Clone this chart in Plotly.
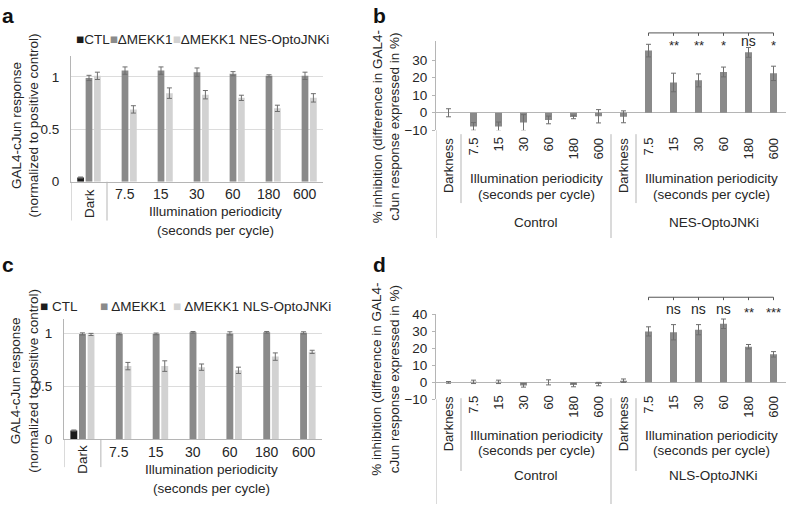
import plotly.graph_objects as go

W, H = 788, 512


def px(x):
    return x / W


def py(y):
    return 1 - y / H


FONT = "Liberation Sans, Arial, sans-serif"
TXT = "#262626"
C_CTL = "#1c1c1c"
C_MEKK = "#8a8a8a"
C_OPTO = "#d2d2d2"
ERR = "#6e6e6e"
AX = "#b5b5b5"
GRID = "#dcdcdc"

# ---------------- data ----------------
cats_ac = ["Dark", "7.5", "15", "30", "60", "180", "600"]
group_title_1 = "Illumination periodicity"
group_title_2 = "(seconds per cycle)"

# panel a
a_ctl = [0.04, None, None, None, None, None, None]
a_ctl_err = [0.005, 0, 0, 0, 0, 0, 0]
a_mekk = [0.99, 1.06, 1.06, 1.045, 1.03, 1.01, 1.01]
a_mekk_err = [0.025, 0.035, 0.035, 0.04, 0.02, 0.01, 0.035]
a_nes = [1.01, 0.69, 0.845, 0.83, 0.80, 0.70, 0.80]
a_nes_err = [0.035, 0.035, 0.05, 0.04, 0.025, 0.03, 0.04]

# panel c
c_ctl = [0.08, None, None, None, None, None, None]
c_ctl_err = [0.005, 0, 0, 0, 0, 0, 0]
c_mekk = [0.995, 0.995, 0.995, 1.01, 1.0, 1.01, 1.005]
c_mekk_err = [0.01, 0.008, 0.008, 0.008, 0.015, 0.008, 0.01]
c_nls = [0.99, 0.69, 0.69, 0.68, 0.65, 0.78, 0.825]
c_nls_err = [0.01, 0.035, 0.05, 0.03, 0.03, 0.035, 0.015]

# panels b and d
cats_bd = ["Darkness", "7.5", "15", "30", "60", "180", "600",
           "Darkness", "7.5", "15", "30", "60", "180", "600"]
b_vals = [0.0, -7.8, -7.8, -5.6, -4.1, -2.4, -2.0,
          -2.3, 35.5, 17.3, 18.5, 23.3, 34.5, 22.5]
b_err = [2.3, 2.2, 2.5, 4.5, 2.2, 1.0, 3.8,
         3.4, 3.6, 5.3, 3.7, 2.8, 2.8, 4.1]
b_sig = [None] * 9 + ["**", "**", "*", "ns", "*"]
b_groups = ["Control", "NES-OptoJNKi"]

d_vals = [0.0, 0.3, 0.3, -1.8, 0.0, -1.6, -1.0,
          1.0, 30.0, 29.5, 31.0, 34.5, 21.0, 16.5]
d_err = [0.5, 1.0, 1.0, 1.0, 1.5, 1.0, 1.0,
         1.0, 2.7, 4.5, 3.0, 2.8, 1.3, 1.6]
d_sig = [None] * 9 + ["ns", "ns", "ns", "**", "***"]
d_groups = ["Control", "NLS-OptoJNKi"]

legend_a = ["CTL", "ΔMEKK1", "ΔMEKK1 NES-OptoJNKi"]
legend_c = ["CTL", "ΔMEKK1", "ΔMEKK1 NLS-OptoJNKi"]

ytitle_ac = "GAL4-cJun response<br>(normalized to positive control)"
ytitle_bd = "% inhibition (difference in GAL4-<br>cJun response expressed in %)"

# ---------------- figure ----------------
fig = go.Figure()


def err(arr):
    return dict(type="data", array=arr, color=ERR, thickness=1, width=2.5, visible=True)


xi_ac = list(range(len(cats_ac)))
xi_bd = list(range(len(cats_bd)))

for vals, e, col, nm, xa, ya in [
    (a_ctl, a_ctl_err, C_CTL, legend_a[0], "x", "y"),
    (a_mekk, a_mekk_err, C_MEKK, legend_a[1], "x", "y"),
    (a_nes, a_nes_err, C_OPTO, legend_a[2], "x", "y"),
    (c_ctl, c_ctl_err, C_CTL, legend_c[0], "x3", "y3"),
    (c_mekk, c_mekk_err, C_MEKK, legend_c[1], "x3", "y3"),
    (c_nls, c_nls_err, C_OPTO, legend_c[2], "x3", "y3"),
]:
    fig.add_trace(go.Bar(x=xi_ac, y=vals, error_y=err(e), marker_color=col,
                         marker_line_width=0, name=nm, xaxis=xa, yaxis=ya,
                         showlegend=False, cliponaxis=False))

for vals, e, xa, ya in [(b_vals, b_err, "x2", "y2"), (d_vals, d_err, "x4", "y4")]:
    fig.add_trace(go.Bar(x=xi_bd, y=vals, error_y=err(e), marker_color=C_MEKK,
                         marker_line_width=0, width=0.28, xaxis=xa, yaxis=ya,
                         showlegend=False, cliponaxis=False))

tickfont = dict(family=FONT, size=13.5, color=TXT)

common_x = dict(showticklabels=False, showgrid=False, zeroline=False, ticks="", fixedrange=True)

fig.update_layout(
    width=W, height=H, margin=dict(l=0, r=0, t=0, b=0),
    paper_bgcolor="white", plot_bgcolor="white",
    barmode="group", bargap=0.3, bargroupgap=0.2,
    font=dict(family=FONT, size=13.5, color=TXT),
    xaxis=dict(domain=[px(71), px(323)], range=[-0.5, 6.5], anchor="y",
               showline=True, linecolor=AX, linewidth=1, **common_x),
    yaxis=dict(domain=[py(180), py(50.4)], range=[0, 1.2], anchor="x",
               tickvals=[0, 0.5, 1], ticktext=["0", "0.5", "1"],
               showgrid=True, gridcolor=GRID, gridwidth=1, zeroline=False,
               showline=True, linecolor=AX, ticks="", ticklabelstandoff=8,
               tickfont=tickfont, fixedrange=True),
    xaxis2=dict(domain=[px(436), px(786)], range=[-0.5, 13.5], anchor="y2",
                showline=False, **common_x),
    yaxis2=dict(domain=[py(127), py(35)], range=[-10, 41], anchor="x2",
                tickvals=[-10, 0, 10, 20, 30], showgrid=False,
                zeroline=True, zerolinecolor=AX, zerolinewidth=1,
                showline=True, linecolor=AX, ticks="outside", ticklen=3,
                tickcolor=AX, ticklabelstandoff=2, tickfont=tickfont, fixedrange=True),
    xaxis3=dict(domain=[px(64), px(322)], range=[-0.5, 6.5], anchor="y3",
                showline=True, linecolor=AX, linewidth=1, **common_x),
    yaxis3=dict(domain=[py(445), py(321)], range=[0, 1.14], anchor="x3",
                tickvals=[0, 0.5, 1], ticktext=["0", "0.5", "1"],
                showgrid=True, gridcolor=GRID, gridwidth=1, zeroline=False,
                showline=True, linecolor=AX, ticks="", ticklabelstandoff=8,
                tickfont=tickfont, fixedrange=True),
    xaxis4=dict(domain=[px(436), px(786)], range=[-0.5, 13.5], anchor="y4",
                showline=False, **common_x),
    yaxis4=dict(domain=[py(404.2), py(316.7)], range=[-10, 40], anchor="x4",
                tickvals=[-10, 0, 10, 20, 30, 40], showgrid=False,
                zeroline=True, zerolinecolor=AX, zerolinewidth=1,
                showline=True, linecolor=AX, ticks="outside", ticklen=3,
                tickcolor=AX, ticklabelstandoff=2, tickfont=tickfont, fixedrange=True),
)

ann = []
shapes = []


def text(x, y, s, xref="paper", size=13.5, angle=0, xanchor="center", yanchor="middle", bold=False):
    ann.append(dict(x=x, y=y, xref=xref, yref="paper", text=s, showarrow=False,
                    textangle=angle, xanchor=xanchor, yanchor=yanchor,
                    font=dict(family=FONT, size=size, color="#111" if bold else TXT,
                              weight="bold" if bold else "normal")))


def vline(x, y0, y1, xref):
    shapes.append(dict(type="line", xref=xref, yref="paper", x0=x, x1=x,
                       y0=py(y0), y1=py(y1), line=dict(color=AX, width=1)))


def hline(x0, x1, y, xref, color=AX):
    shapes.append(dict(type="line", xref=xref, yref="paper", x0=x0, x1=x1,
                       y0=py(y), y1=py(y), line=dict(color=color, width=1)))


# ---- panels a and c (bottom labels) ----
for xref, base, dark_top, num_y, t1_y, t2_y, bottom in [
    ("x", 180, 186, 193, 211, 230, 220),
    ("x3", 445, 449, 458, 476, 496, 474),
]:
    vline(-0.5, base, bottom, xref)
    vline(0.5, base, bottom, xref)
    text(0, py(dark_top), cats_ac[0], xref=xref, angle=-90, yanchor="top")
    for i in range(1, len(cats_ac)):
        text(i, py(num_y), cats_ac[i], xref=xref, size=14)
    text(3.5, py(t1_y), group_title_1, xref=xref)
    text(3.5, py(t2_y), group_title_2, xref=xref)

# ---- panels b and d (bottom labels) ----
for xref, axis_bottom, sep_top, lab_top, t1_y, t2_y, g_y, short_bot, long_bot, groups in [
    ("x2", 127, 131, 133, 177, 193, 222, 202, 238, b_groups),
    ("x4", 404.2, 403, 399, 441, 457, 483, 478, 512, d_groups),
]:
    vline(-0.5, axis_bottom, long_bot, xref)
    vline(0.5, sep_top, short_bot, xref)
    vline(6.5, sep_top, long_bot, xref)
    vline(7.5, sep_top, short_bot, xref)
    for i, c in enumerate(cats_bd):
        text(i, py(lab_top), c, xref=xref, size=13, angle=-90, yanchor="top")
    text(3.5, py(t1_y), group_title_1, xref=xref)
    text(3.5, py(t2_y), group_title_2, xref=xref)
    text(10.5, py(t1_y), group_title_1, xref=xref)
    text(10.5, py(t2_y), group_title_2, xref=xref)
    text(3.5, py(g_y), groups[0], xref=xref)
    text(10.6, py(g_y), groups[1], xref=xref)

# ---- significance brackets ----
for xref, yb, ylab, sig in [("x2", 26.7, 35.5, b_sig), ("x4", 299, 311, d_sig)]:
    hline(8, 13, yb, xref, color="#555")
    for i in range(8, 14):
        shapes.append(dict(type="line", xref=xref, yref="paper", x0=i, x1=i,
                           y0=py(yb), y1=py(yb + 3), line=dict(color="#555", width=1)))
    for i, s in enumerate(sig):
        if s is None:
            continue
        if s == "ns":
            text(i, py(ylab), s, xref=xref, size=14)
        else:
            text(i, py(ylab + 4), s, xref=xref, size=13)

# ---- y-axis titles ----
text(px(25), py(122), ytitle_ac, angle=-90)
text(px(25), py(385), ytitle_ac, angle=-90)
text(px(386), py(124), ytitle_bd, angle=-90)
text(px(386), py(384), ytitle_bd, angle=-90)

# ---- panel letters ----
text(px(0), py(9), "a", size=21, xanchor="left", bold=True)
text(px(371), py(9), "b", size=21, xanchor="left", bold=True)
text(px(0), py(265), "c", size=21, xanchor="left", bold=True)
text(px(371), py(265), "d", size=21, xanchor="left", bold=True)

# ---- legends ----
sq = '<span style="color:%s">■</span>'
leg_a = "".join((sq % col) + name for col, name in zip([C_CTL, C_MEKK, C_OPTO], legend_a))
text(px(74), py(33), leg_a, xanchor="left")
for xpos, col, name in zip([38, 98, 171], [C_CTL, C_MEKK, C_OPTO], legend_c):
    text(px(xpos), py(309), (sq % col) + " " + name, xanchor="left")

fig.update_layout(annotations=ann, shapes=shapes)
fig.write_html(
    "out.html",
    config={"displayModeBar": False, "staticPlot": True},
    post_script="document.body.style.margin='0';document.body.style.overflow='hidden';",
)
